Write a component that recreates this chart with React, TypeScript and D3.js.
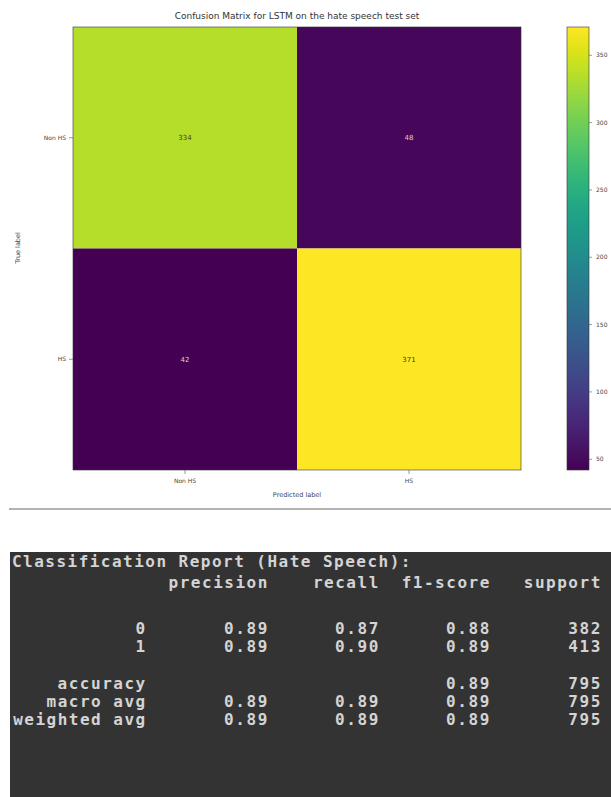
import React from "react";
import * as d3 from "d3";

const classes = ["Non HS", "HS"];
const matrix = [
  [334, 48],
  [42, 371],
];
const cbTicks = [50, 100, 150, 200, 250, 300, 350];
const reportTitle = "Classification Report (Hate Speech):";
const headers = ["precision", "recall", "f1-score", "support"];
const rowNames = ["0", "1", "accuracy", "macro avg", "weighted avg"];
const precision = ["0.89", "0.89", "", "0.89", "0.89"];
const recall = ["0.87", "0.90", "", "0.89", "0.89"];
const f1 = ["0.88", "0.89", "0.89", "0.89", "0.89"];
const support = ["382", "413", "795", "795", "795"];

export default function App() {
  const W = 611, H = 797;
  const x = d3.scaleBand<string>().domain(classes).range([73, 521]);
  const y = d3.scaleBand<string>().domain(classes).range([27, 470]);
  const all = matrix.flat();
  const vmin = d3.min(all)!, vmax = d3.max(all)!;
  const color = d3.scaleSequential(d3.interpolateViridis).domain([vmin, vmax]);
  const cb = d3.scaleLinear().domain([vmin, vmax]).range([470, 27]);
  const thresh = (vmin + vmax) / 2;
  const stops = d3.range(0, 1.0001, 0.05);

  const charW = 11.1;
  const x0 = 12;
  const colEnd = (c: number) => x0 + c * charW;
  const colEnds = [colEnd(23), colEnd(33), colEnd(43), colEnd(53)];
  const rowY = [634, 652, 689, 707, 725];
  const cols = [precision, recall, f1, support];
  const mono = "'DejaVu Sans Mono', monospace";
  const txt = "#d4d4d4";

  const T = (props: { x: number; y: number; s: string; anchor?: string }) => (
    <text
      x={props.x}
      y={props.y}
      textAnchor={props.anchor ?? "end"}
      textLength={props.s.length * charW - 1.2}
      lengthAdjust="spacing"
    >
      {props.s}
    </text>
  );

  return (
    <svg width={W} height={H} style={{ position: "absolute", left: 0, top: 0 }} fontFamily="'DejaVu Sans', sans-serif">
      <defs>
        <linearGradient id="vir" x1="0" y1="1" x2="0" y2="0">
          {stops.map((s) => (
            <stop key={s} offset={s} stopColor={d3.interpolateViridis(s)} />
          ))}
        </linearGradient>
      </defs>
      <rect width={W} height={H} fill="#fff" />
      <text x={297} y={19} textAnchor="middle" fontSize={9} fill="#333">
        Confusion Matrix for LSTM on the hate speech test set
      </text>
      {matrix.map((row, i) =>
        row.map((v, j) => (
          <g key={`${i}-${j}`}>
            <rect x={x(classes[j])} y={y(classes[i])} width={x.bandwidth()} height={y.bandwidth()} fill={color(v)} />
            <text
              x={x(classes[j])! + x.bandwidth() / 2}
              y={y(classes[i])! + y.bandwidth() / 2 + 2.5}
              textAnchor="middle"
              fontSize={7}
              fill={v < thresh ? "#e6c8c0" : "#4a3a20"}
            >
              {v}
            </text>
          </g>
        ))
      )}
      <rect x={73} y={27} width={448} height={443} fill="none" stroke="#333" strokeWidth={0.6} />
      {classes.map((c) => (
        <g key={"yt" + c}>
          <line x1={69} x2={73} y1={y(c)! + y.bandwidth() / 2} y2={y(c)! + y.bandwidth() / 2} stroke="#555" strokeWidth={0.6} />
          <text x={66} y={y(c)! + y.bandwidth() / 2 + 2} textAnchor="end" fontSize={6} fill="#444">{c}</text>
        </g>
      ))}
      {classes.map((c) => (
        <g key={"xt" + c}>
          <line x1={x(c)! + x.bandwidth() / 2} x2={x(c)! + x.bandwidth() / 2} y1={470} y2={474} stroke="#555" strokeWidth={0.6} />
          <text x={x(c)! + x.bandwidth() / 2} y={483} textAnchor="middle" fontSize={6} fill="#444">{c}</text>
        </g>
      ))}
      <text x={297} y={497} textAnchor="middle" fontSize={6.5} fill="#444">Predicted label</text>
      <text transform="translate(20,248) rotate(-90)" textAnchor="middle" fontSize={6.5} fill="#444">True label</text>

      <rect x={567} y={27} width={22} height={443} fill="url(#vir)" stroke="#333" strokeWidth={0.6} />
      {cbTicks.map((t) => (
        <g key={"cb" + t}>
          <line x1={589} x2={592} y1={cb(t)} y2={cb(t)} stroke="#555" strokeWidth={0.6} />
          <text x={596} y={cb(t) + 2.2} fontSize={6} fill="#444">{t}</text>
        </g>
      ))}

      <line x1={9} x2={611} y1={509} y2={509} stroke="#9a9a9a" strokeWidth={1.5} />

      <rect x={10} y={552} width={601} height={245} fill="#333333" />
      <g fontFamily={mono} fontSize={16} fontWeight="bold" fill={txt}>
        <T x={x0} y={567} s={reportTitle} anchor="start" />
        {headers.map((h, k) => (
          <T key={h} x={colEnds[k]} y={588} s={h} />
        ))}
        {rowNames.map((r, i) => (
          <g key={r}>
            <T x={colEnd(12)} y={rowY[i]} s={r} />
            {cols.map((col, k) => (col[i] ? <T key={k} x={colEnds[k]} y={rowY[i]} s={col[i]} /> : null))}
          </g>
        ))}
      </g>
    </svg>
  );
}
